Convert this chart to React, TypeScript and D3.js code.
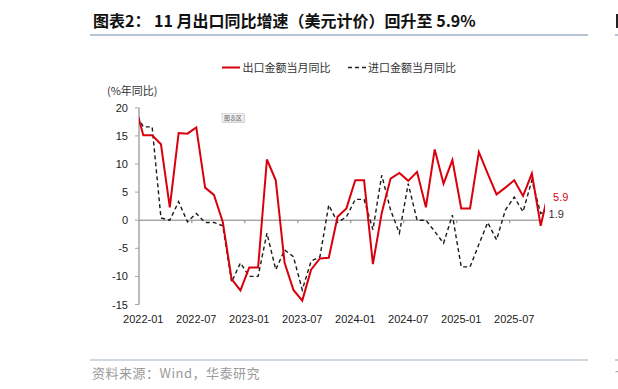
import React, { useEffect, useRef } from "react";
import * as d3 from "d3";

// Dec 2021 .. Nov 2025 (first and last points fall just outside the plot and get clipped)
const months = d3.timeMonth.range(new Date(2021, 11, 1), new Date(2025, 11, 1));

const exportYoY = [
  20.9,
  15.1, 15.1, 13.5, 2.3, 15.5, 15.4, 16.5, 5.8, 4.5, -0.3, -10.5, -12.5,
  -8.4, -8.4, 10.8, 7.1, -7.6, -12.4, -14.3, -8.8, -6.8, -6.7, 0.6, 2.1,
  7.1, 7.1, -7.8, 1.3, 7.4, 8.4, 7.0, 8.6, 2.3, 12.6, 6.5, 10.7,
  2.1, 2.1, 12.1, 8.3, 4.6, 5.8, 7.1, 4.3, 8.3, -1.0, 5.9,
];

const importYoY = [
  19.5,
  16.6, 16.6, 0.4, 0.0, 3.3, -0.3, 1.2, -0.4, -0.4, -1.0, -11.0, -7.6,
  -10.0, -10.0, -2.3, -8.8, -5.3, -6.5, -12.4, -7.3, -6.5, 2.7, -0.4, 0.6,
  3.7, 3.7, -1.7, 8.0, 1.8, -2.3, 6.5, 0.0, 0.0, -2.0, -4.1, 0.9,
  -8.3, -8.3, -4.3, -0.4, -3.5, 1.8, 4.1, 1.5, 7.1, 1.2, 1.9,
];

const tickLabels = ["2022-01", "2022-07", "2023-01", "2023-07", "2024-01", "2024-07", "2025-01", "2025-07"];
const yTicks = [-15, -10, -5, 0, 5, 10, 15, 20];
const seriesNames = ["出口金额当月同比", "进口金额当月同比"];

const RED = "#D9000D";
const CJK = "'Noto Sans CJK SC', 'Liberation Sans', sans-serif";
const LAT = "'Liberation Sans', Arial, sans-serif";

export default function App() {
  const ref = useRef<SVGSVGElement>(null);

  useEffect(() => {
    const svg = d3.select(ref.current);
    svg.selectAll("*").remove();

    const x = d3.scaleLinear().domain([1, 46]).range([143.3, 540.7]);
    const y = d3.scaleLinear().domain([-15, 20]).range([304.5, 107.8]);
    const x0 = 139;

    // title + rules
    svg.append("text").attr("x", 93).attr("y", 27).attr("font-family", CJK)
      .attr("font-weight", "bold").attr("font-size", 16).attr("fill", "#111")
      .text("图表2： 11 月出口同比增速（美元计价）回升至 5.9%");
    // edge of the next column's title, cut by the page
    svg.append("rect").attr("x", 616).attr("y", 14).attr("width", 2).attr("height", 14).attr("fill", "#222");
    svg.append("line").attr("x1", 90).attr("x2", 588).attr("y1", 35).attr("y2", 35)
      .attr("stroke", "#9fb0c4").attr("stroke-width", 1.5);
    svg.append("line").attr("x1", 615).attr("x2", 618).attr("y1", 35).attr("y2", 35)
      .attr("stroke", "#9fb0c4").attr("stroke-width", 1.5);

    // legend
    const lg = svg.append("g").attr("font-family", CJK).attr("font-size", 11).attr("fill", "#333");
    lg.append("line").attr("x1", 222).attr("x2", 240).attr("y1", 67.5).attr("y2", 67.5)
      .attr("stroke", RED).attr("stroke-width", 2);
    lg.append("text").attr("x", 242.5).attr("y", 71.5).text(seriesNames[0]);
    lg.append("line").attr("x1", 348).attr("x2", 367).attr("y1", 67.5).attr("y2", 67.5)
      .attr("stroke", "#222").attr("stroke-width", 1.3).attr("stroke-dasharray", "4,3");
    lg.append("text").attr("x", 368).attr("y", 71.5).text(seriesNames[1]);

    svg.append("text").attr("x", 107).attr("y", 94.5).attr("font-family", CJK)
      .attr("font-size", 11).attr("fill", "#333").text("(%年同比)");

    // y axis
    svg.append("line").attr("x1", x0).attr("x2", x0).attr("y1", y(20)).attr("y2", y(-15))
      .attr("stroke", "#a6a6a6").attr("stroke-width", 1.5);
    const yt = svg.append("g").selectAll("g").data(yTicks).join("g");
    yt.append("line").attr("x1", 135).attr("x2", x0).attr("y1", (d) => y(d)).attr("y2", (d) => y(d))
      .attr("stroke", "#a6a6a6");
    yt.append("text").attr("x", 128).attr("y", (d) => y(d) + 4).attr("text-anchor", "end")
      .attr("font-family", LAT).attr("font-size", 11).attr("fill", "#222").text((d) => d);

    // zero line + x ticks
    svg.append("line").attr("x1", x0).attr("x2", x(46)).attr("y1", y(0)).attr("y2", y(0))
      .attr("stroke", "#808080").attr("stroke-width", 1);
    const half = (x(2) - x(1)) / 2;
    tickLabels.forEach((lab, i) => {
      const xi = x(1 + i * 6);
      if (i > 0) {
        svg.append("line").attr("x1", xi - half).attr("x2", xi - half)
          .attr("y1", y(0)).attr("y2", y(0) + 3).attr("stroke", "#808080");
      }
      svg.append("text").attr("x", xi).attr("y", 322.5).attr("text-anchor", "middle")
        .attr("font-family", LAT).attr("font-size", 11).attr("fill", "#222").text(lab);
    });

    // plot clip
    svg.append("clipPath").attr("id", "plotclip").append("rect")
      .attr("x", x0).attr("y", 95).attr("width", 545 - x0).attr("height", 220);

    const line = d3.line<number>().x((_, i) => x(i)).y((d) => y(d));
    const plot = svg.append("g").attr("clip-path", "url(#plotclip)");
    plot.append("path").attr("d", line(importYoY)).attr("fill", "none")
      .attr("stroke", "#1a1a1a").attr("stroke-width", 1.4).attr("stroke-dasharray", "4,3");
    plot.append("path").attr("d", line(exportYoY)).attr("fill", "none")
      .attr("stroke", RED).attr("stroke-width", 2).attr("stroke-linejoin", "miter");

    // end labels
    const last = months.length - 1;
    svg.append("text").attr("x", x(last) + 3.5).attr("y", y(exportYoY[last]) + 14)
      .attr("font-family", LAT).attr("font-size", 11).attr("fill", RED).text(exportYoY[last].toFixed(1));
    svg.append("text").attr("x", x(last) - 1).attr("y", y(importYoY[last]) + 8)
      .attr("font-family", LAT).attr("font-size", 11).attr("fill", "#333").text(importYoY[last].toFixed(1));

    // stray "图表区" tag
    svg.append("rect").attr("x", 223).attr("y", 114.5).attr("width", 22).attr("height", 8.5).attr("fill", "#ddd");
    svg.append("rect").attr("x", 222).attr("y", 113.5).attr("width", 22).attr("height", 8.5)
      .attr("fill", "#f4f4f4").attr("stroke", "#c4c4c4").attr("stroke-width", 0.6);
    svg.append("text").attr("x", 233).attr("y", 120).attr("text-anchor", "middle")
      .attr("font-family", CJK).attr("font-size", 6).attr("fill", "#666").text("图表区");

    // footer
    svg.append("line").attr("x1", 90).attr("x2", 588).attr("y1", 360).attr("y2", 360)
      .attr("stroke", "#9fb0c4").attr("stroke-width", 1.2);
    svg.append("line").attr("x1", 615).attr("x2", 618).attr("y1", 360).attr("y2", 360)
      .attr("stroke", "#9fb0c4").attr("stroke-width", 1.2);
    svg.append("text").attr("x", 92).attr("y", 378).attr("font-family", CJK)
      .attr("font-size", 13).attr("letter-spacing", 0.5).attr("fill", "#9a9a9a")
      .text("资料来源：Wind，华泰研究");
    svg.append("rect").attr("x", 615.5).attr("y", 371).attr("width", 2.5).attr("height", 1.2).attr("fill", "#aaa");
  }, []);

  return (
    <svg ref={ref} width={618} height={389}
      style={{ position: "absolute", left: 0, top: 0, background: "#fff" }} />
  );
}
